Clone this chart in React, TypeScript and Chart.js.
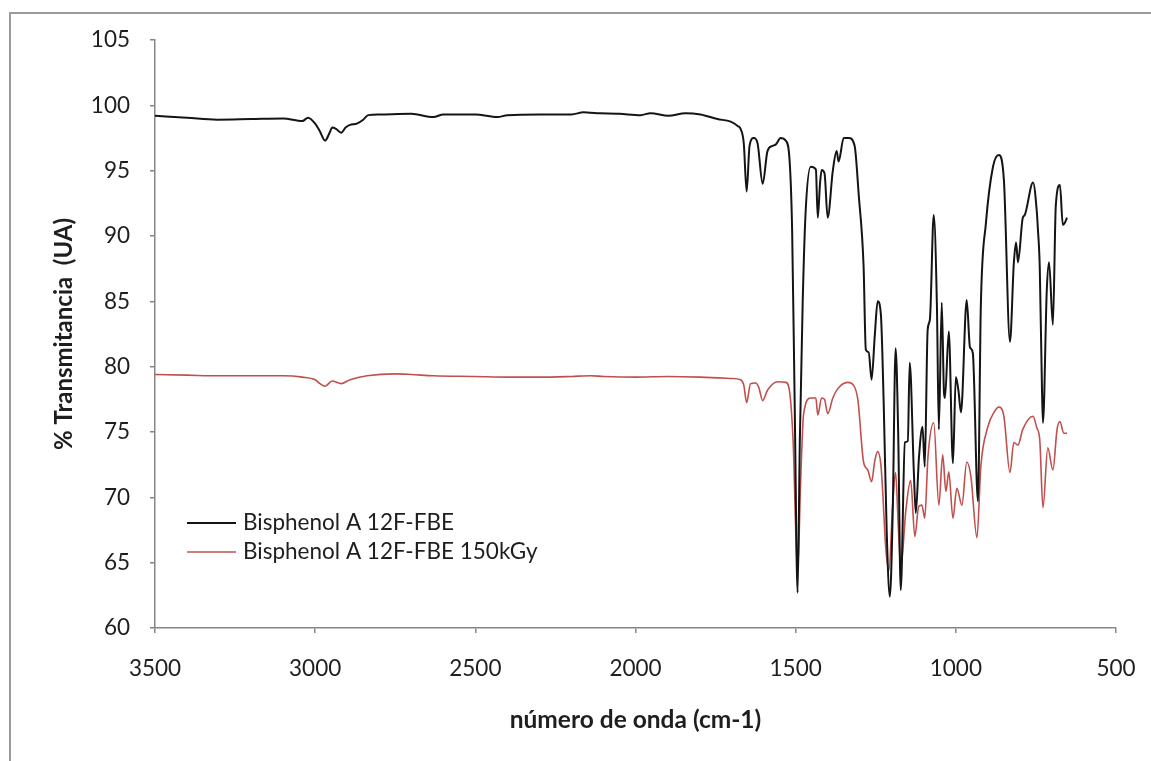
import React, { useEffect, useRef } from "react";
import { Chart, registerables } from "chart.js";

Chart.register(...registerables);

const SERIES_LABELS = ["Bisphenol A 12F-FBE", "Bisphenol A 12F-FBE 150kGy"];
const X_TITLE = "número de onda (cm-1)";
const Y_TITLE = "% Transmitancia  (UA)";

const WN_BLACK = [
  3500, 3400, 3306, 3200, 3100, 3040, 3022, 3000, 2985, 2969, 2955, 2947, 2935, 2919, 2905, 2891, 2870, 2850, 2834,
  2800, 2700, 2631, 2600, 2500, 2431, 2400, 2300, 2200, 2162, 2120, 2109, 2050, 1984, 1953, 1897, 1844, 1797, 1744,
  1703, 1680, 1672, 1662, 1653, 1644, 1631, 1619, 1603, 1588, 1572, 1562, 1547, 1531, 1519, 1511, 1503, 1494, 1487,
  1478, 1469, 1453, 1437, 1431, 1424, 1419, 1410, 1400, 1384, 1372, 1366, 1350, 1334, 1316, 1303, 1288, 1281, 1272,
  1263, 1253, 1244, 1234, 1225, 1216, 1206, 1197, 1188, 1180, 1172, 1159, 1150, 1144, 1131, 1125, 1115, 1104, 1097,
  1088, 1081, 1069, 1059, 1053, 1044, 1037, 1034, 1022, 1009, 1000, 992, 984, 966, 956, 947, 931, 922, 906, 884, 866,
  850, 831, 819, 812, 806, 791, 785, 759, 747, 744, 738, 731, 728, 716, 709, 697, 688, 675, 666, 660, 653,
];
const T_BLACK = [
  99.2, 99.05, 98.9, 98.95, 99.0, 98.8, 99.05, 98.6, 98.0, 97.3, 97.9, 98.3, 98.2, 97.9, 98.3, 98.5, 98.6, 98.9, 99.25,
  99.3, 99.35, 99.1, 99.3, 99.3, 99.1, 99.25, 99.3, 99.3, 99.47, 99.4, 99.4, 99.35, 99.25, 99.4, 99.2, 99.4, 99.3, 98.95,
  98.75, 98.4, 98.2, 97.1, 93.4, 96.9, 97.5, 97.1, 94.0, 96.5, 96.9, 97.0, 97.5, 97.3, 95.8, 90.4, 77.0, 62.7, 74.3,
  85.0, 91.8, 95.3, 95.1, 91.4, 94.0, 95.05, 94.8, 91.4, 95.0, 96.5, 95.7, 97.5, 97.5, 96.9, 93.1, 87.7, 81.3, 81.1,
  79.0, 82.4, 85.0, 84.0, 77.0, 67.55, 62.4, 68.9, 81.4, 75.0, 62.9, 74.2, 74.3, 80.3, 71.9, 68.8, 73.1, 75.4, 72.35,
  82.8, 83.6, 91.6, 84.6, 75.2, 84.9, 78.0, 77.6, 82.7, 72.6, 79.2, 78.2, 76.5, 85.1, 81.5, 81.05, 69.7, 84.6, 91.0, 95.3, 96.2,
  94.3, 81.9, 87.9, 89.5, 88.0, 91.4, 91.6, 94.1, 91.8, 90.6, 87.6, 78.2, 75.7, 85.9, 88.0, 83.2, 92.3, 93.9, 90.85, 91.0, 91.4,
];

const WN_RED = [
  3500, 3400, 3300, 3100, 3040, 3000, 2985, 2969, 2947, 2919, 2891, 2838, 2750, 2700, 2631, 2500, 2400, 2300, 2200,
  2140, 2100, 2000, 1900, 1797, 1700, 1672, 1662, 1653, 1641, 1625, 1615, 1603, 1588, 1556, 1531, 1519, 1508, 1494,
  1484, 1475, 1453, 1437, 1431, 1419, 1410, 1400, 1384, 1369, 1338, 1320, 1306, 1288, 1275, 1263, 1253, 1244, 1234,
  1228, 1219, 1209, 1197, 1188, 1180, 1172, 1156, 1141, 1128, 1116, 1106, 1097, 1087, 1069, 1053, 1041, 1031, 1022,
  1009, 997, 981, 966, 953, 934, 922, 900, 881, 866, 850, 831, 819, 806, 791, 759, 747, 738, 728, 713, 697, 684, 675,
  663, 653,
];
const T_RED = [
  79.4, 79.35, 79.3, 79.3, 79.2, 79.0, 78.7, 78.5, 78.9, 78.7, 79.0, 79.3, 79.45, 79.4, 79.3, 79.25, 79.2, 79.2, 79.25,
  79.3, 79.25, 79.2, 79.25, 79.2, 79.1, 79.0, 78.6, 77.25, 78.7, 78.75, 78.4, 77.4, 78.2, 78.85, 78.8, 78.1, 74.3, 64.3,
  71.6, 76.4, 77.6, 77.6, 76.3, 77.6, 77.5, 76.4, 77.6, 78.3, 78.8, 78.6, 77.5, 72.7, 72.1, 71.2, 72.8, 73.5, 72.5,
  70.3, 66.2, 64.4, 69.5, 71.9, 68.0, 64.6, 69.0, 71.3, 67.0, 69.3, 69.4, 68.4, 73.1, 75.7, 69.4, 73.25, 70.45, 71.95,
  68.4, 70.7, 69.4, 72.7, 71.6, 66.9, 72.35, 75.4, 76.5, 76.9, 76.2, 71.9, 74.2, 74.0, 75.2, 76.2, 75.3, 74.4, 69.2, 73.8,
  72.1, 75.2, 75.8, 74.9, 74.9,
];

const X_MIN = 500;
const X_MAX = 3500;
const X_STEP = 500;
const Y_MIN = 60;
const Y_MAX = 105;
const Y_STEP = 5;

const COLORS = ["#141414", "#C0504D"];
const AXIS_COLOR = "#868686";
const TEXT_COLOR = "#1e1e1e";
const FONT_FAMILY = "Lato, 'Open Sans', sans-serif";

const W = 1151;
const H = 761;

export default function App() {
  const ref = useRef<HTMLCanvasElement | null>(null);

  useEffect(() => {
    const canvas = ref.current;
    if (!canvas) return;

    const frameAndLegend = {
      id: "frameAndLegend",
      beforeDraw(chart: any) {
        const ctx = chart.ctx;
        ctx.save();
        ctx.fillStyle = "#ffffff";
        ctx.fillRect(0, 0, chart.width, chart.height);
        ctx.strokeStyle = "#9a9a9a";
        ctx.lineWidth = 2;
        ctx.strokeRect(10, 13, chart.width + 20, chart.height + 20);
        ctx.restore();
      },
      afterDraw(chart: any) {
        const ctx = chart.ctx;
        const area = chart.chartArea;
        ctx.save();
        ctx.font = `22.5px ${FONT_FAMILY}`;
        ctx.textBaseline = "middle";
        ctx.textAlign = "left";
        chart.data.datasets.forEach((ds: any, i: number) => {
          const y = area.bottom - 105 + i * 29;
          const x0 = area.left + 32;
          ctx.strokeStyle = ds.borderColor;
          ctx.lineWidth = i === 0 ? 2 : 1.6;
          ctx.beginPath();
          ctx.moveTo(x0, y);
          ctx.lineTo(x0 + 49, y);
          ctx.stroke();
          ctx.fillStyle = TEXT_COLOR;
          ctx.fillText(ds.label, x0 + 56, y);
        });
        ctx.restore();
      },
    };

    const chart = new Chart(canvas, {
      type: "line",
      data: {
        datasets: [
          {
            label: SERIES_LABELS[0],
            data: WN_BLACK.map((x, i) => ({ x, y: T_BLACK[i] })),
            borderColor: COLORS[0],
            borderWidth: 2,
            pointRadius: 0,
            cubicInterpolationMode: "monotone",
            fill: false,
          },
          {
            label: SERIES_LABELS[1],
            data: WN_RED.map((x, i) => ({ x, y: T_RED[i] })),
            borderColor: COLORS[1],
            borderWidth: 1.6,
            pointRadius: 0,
            cubicInterpolationMode: "monotone",
            fill: false,
          },
        ],
      },
      options: {
        responsive: false,
        animation: false,
        events: [],
        layout: { padding: { top: 40, right: 35, left: 0, bottom: 0 } },
        plugins: {
          legend: { display: false },
          tooltip: { enabled: false },
        },
        scales: {
          x: {
            type: "linear",
            reverse: true,
            min: X_MIN,
            max: X_MAX,
            afterFit(scale: any) {
              scale.height = 133;
              scale.paddingLeft = 0;
              scale.paddingRight = 0;
            },
            ticks: {
              stepSize: X_STEP,
              padding: 22,
              color: TEXT_COLOR,
              font: { family: FONT_FAMILY, size: 22.5 },
              maxRotation: 0,
              autoSkip: false,
              callback: (v: any) => String(v),
            },
            grid: {
              drawOnChartArea: false,
              drawTicks: true,
              tickLength: 5,
              color: AXIS_COLOR,
              lineWidth: 1.5,
            },
            border: { display: true, color: AXIS_COLOR, width: 1.5 },
            title: {
              display: true,
              text: X_TITLE,
              color: TEXT_COLOR,
              font: { family: FONT_FAMILY, size: 24.5, weight: "bold" },
              padding: { top: 0, bottom: 26.5 },
            },
          },
          y: {
            type: "linear",
            min: Y_MIN,
            max: Y_MAX,
            afterFit(scale: any) {
              scale.width = 155;
            },
            ticks: {
              stepSize: Y_STEP,
              padding: 20,
              color: TEXT_COLOR,
              font: { family: FONT_FAMILY, size: 22.5 },
              autoSkip: false,
              callback: (v: any) => String(v),
            },
            grid: {
              drawOnChartArea: false,
              drawTicks: true,
              tickLength: 5,
              color: AXIS_COLOR,
              lineWidth: 1.5,
            },
            border: { display: true, color: AXIS_COLOR, width: 1.5 },
            title: {
              display: true,
              text: Y_TITLE,
              color: TEXT_COLOR,
              font: { family: FONT_FAMILY, size: 24, weight: "bold" },
              padding: { top: 50, bottom: 0 },
            },
          },
        },
      },
      plugins: [frameAndLegend],
    });

    return () => chart.destroy();
  }, []);

  return (
    <div style={{ position: "fixed", left: 0, top: 0, width: W, height: H, background: "#fff" }}>
      <canvas ref={ref} width={W} height={H} style={{ display: "block", width: W, height: H }} />
    </div>
  );
}
